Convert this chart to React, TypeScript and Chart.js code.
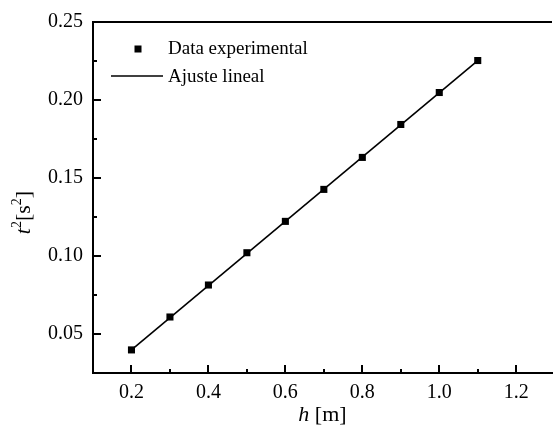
import React, { useEffect, useRef } from 'react';
import { Chart, registerables } from 'chart.js';

Chart.register(...registerables);

// ---- data ----
const hValues = [0.2, 0.3, 0.4, 0.5, 0.6, 0.7, 0.8, 0.9, 1.0, 1.1];
const t2Values = [0.0398, 0.0609, 0.0814, 0.1021, 0.1222, 0.1427, 0.1632, 0.1843, 0.2048, 0.2253];
const fitH = [0.2, 1.1];
const fitT2 = [0.0398, 0.2252];

const xMajorTicks = [0.2, 0.4, 0.6, 0.8, 1.0, 1.2];
const xMinorTicks = [0.3, 0.5, 0.7, 0.9, 1.1];
const yMajorTicks = [0.05, 0.1, 0.15, 0.2, 0.25];
const yMinorTicks = [0.075, 0.125, 0.175, 0.225];

const dataLabel = 'Data experimental';
const fitLabel = 'Ajuste lineal';

const FONT = '"Liberation Serif", "Times New Roman", serif';

type Piece = { t: string; italic?: boolean; sup?: boolean };

function drawRich(ctx: CanvasRenderingContext2D, pieces: Piece[], cx: number, baseY: number, size: number) {
  const fontFor = (p: Piece) =>
    `${p.italic ? 'italic ' : ''}${p.sup ? Math.round(size * 0.62) : size}px ${FONT}`;
  let total = 0;
  const widths = pieces.map((p) => {
    ctx.font = fontFor(p);
    const w = ctx.measureText(p.t).width;
    total += w;
    return w;
  });
  let x = cx - total / 2;
  ctx.textBaseline = 'alphabetic';
  ctx.textAlign = 'left';
  pieces.forEach((p, i) => {
    ctx.font = fontFor(p);
    ctx.fillText(p.t, x, p.sup ? baseY - size * 0.42 : baseY);
    x += widths[i];
  });
}

const decorPlugin = {
  id: 'decor',
  afterDraw(chart: any) {
    const { ctx, chartArea: a } = chart;
    const xs = chart.scales.x;
    const ys = chart.scales.y;
    ctx.save();
    ctx.strokeStyle = '#000';
    ctx.fillStyle = '#000';
    ctx.lineWidth = 2;
    ctx.lineCap = 'butt';
    // top frame line
    ctx.beginPath();
    ctx.moveTo(a.left - 1, a.top);
    ctx.lineTo(a.right, a.top);
    ctx.stroke();

    const seg = (x1: number, y1: number, x2: number, y2: number) => {
      ctx.beginPath();
      ctx.moveTo(x1, y1);
      ctx.lineTo(x2, y2);
      ctx.stroke();
    };
    // inward ticks
    xMajorTicks.forEach((v) => {
      const p = Math.round(xs.getPixelForValue(v));
      seg(p, a.bottom, p, a.bottom - 8);
    });
    xMinorTicks.forEach((v) => {
      const p = Math.round(xs.getPixelForValue(v));
      seg(p, a.bottom, p, a.bottom - 4);
    });
    yMajorTicks.forEach((v) => {
      const p = Math.round(ys.getPixelForValue(v));
      seg(a.left, p, a.left + 8, p);
    });
    yMinorTicks.forEach((v) => {
      const p = Math.round(ys.getPixelForValue(v));
      seg(a.left, p, a.left + 4, p);
    });

    // legend
    const lx = a.left;
    const ly = a.top;
    const ds0 = chart.data.datasets[0];
    const ds1 = chart.data.datasets[1];
    ctx.fillStyle = ds0.backgroundColor;
    ctx.fillRect(lx + 45 - 3.5, ly + 27 - 3.5, 7, 7);
    ctx.strokeStyle = ds1.borderColor;
    ctx.lineWidth = 1.5;
    seg(lx + 18, ly + 54, lx + 70, ly + 54);
    ctx.fillStyle = '#000';
    ctx.font = `19px ${FONT}`;
    ctx.textAlign = 'left';
    ctx.textBaseline = 'middle';
    ctx.fillText(ds0.label, lx + 75, ly + 27);
    ctx.fillText(ds1.label, lx + 75, ly + 55);

    // x title
    drawRich(
      ctx,
      [{ t: 'h', italic: true }, { t: ' [m]' }],
      (a.left + a.right) / 2,
      a.bottom + 48,
      22
    );
    // y title (rotated)
    ctx.save();
    ctx.translate(30, (a.top + a.bottom) / 2 + 15);
    ctx.rotate(-Math.PI / 2);
    drawRich(
      ctx,
      [{ t: 't', italic: true }, { t: '2', sup: true }, { t: '[s' }, { t: '2', sup: true }, { t: ']' }],
      0,
      0,
      22
    );
    ctx.restore();
    ctx.restore();
  },
};

export default function App() {
  const ref = useRef<HTMLCanvasElement | null>(null);

  useEffect(() => {
    document.body.style.margin = '0';
    const canvas = ref.current;
    if (!canvas) return;
    const chart = new Chart(canvas, {
      type: 'scatter',
      data: {
        datasets: [
          {
            label: dataLabel,
            data: hValues.map((h, i) => ({ x: h, y: t2Values[i] })),
            pointStyle: 'rect',
            pointRadius: 5,
            backgroundColor: '#000',
            borderColor: '#000',
            borderWidth: 0,
            showLine: false,
          },
          {
            label: fitLabel,
            data: fitH.map((h, i) => ({ x: h, y: fitT2[i] })),
            showLine: true,
            pointRadius: 0,
            borderColor: '#000',
            backgroundColor: '#000',
            borderWidth: 1.6,
          },
        ],
      },
      options: {
        responsive: false,
        animation: false,
        devicePixelRatio: 1,
        layout: { padding: { top: 22, left: 0, right: 0, bottom: 0 } },
        plugins: {
          legend: { display: false },
          tooltip: { enabled: false },
        },
        scales: {
          x: {
            type: 'linear',
            min: 0.1,
            max: 1.293,
            grid: { display: false, drawTicks: false, tickLength: 0 },
            border: { display: true, color: '#000', width: 2 },
            afterBuildTicks: (s: any) => {
              s.ticks = xMajorTicks.map((v) => ({ value: v }));
            },
            afterFit: (s: any) => {
              s.height = 55;
            },
            ticks: {
              color: '#000',
              font: { family: FONT, size: 20 },
              padding: 8,
              maxRotation: 0,
              autoSkip: false,
              callback: (v: any) => Number(v).toFixed(1),
            },
          },
          y: {
            type: 'linear',
            min: 0.025,
            max: 0.25,
            grid: { display: false, drawTicks: false, tickLength: 0 },
            border: { display: true, color: '#000', width: 2 },
            afterBuildTicks: (s: any) => {
              s.ticks = yMajorTicks.map((v) => ({ value: v }));
            },
            afterFit: (s: any) => {
              s.width = 93;
            },
            ticks: {
              color: '#000',
              font: { family: FONT, size: 20 },
              padding: 10,
              autoSkip: false,
              callback: (v: any) => Number(v).toFixed(2),
            },
          },
        },
      },
      plugins: [decorPlugin],
    } as any);

    return () => {
      chart.destroy();
    };
  }, []);

  return (
    <div style={{ width: 557, height: 428, background: '#fff' }}>
      <canvas ref={ref} width={557} height={428} style={{ display: 'block' }} />
    </div>
  );
}
